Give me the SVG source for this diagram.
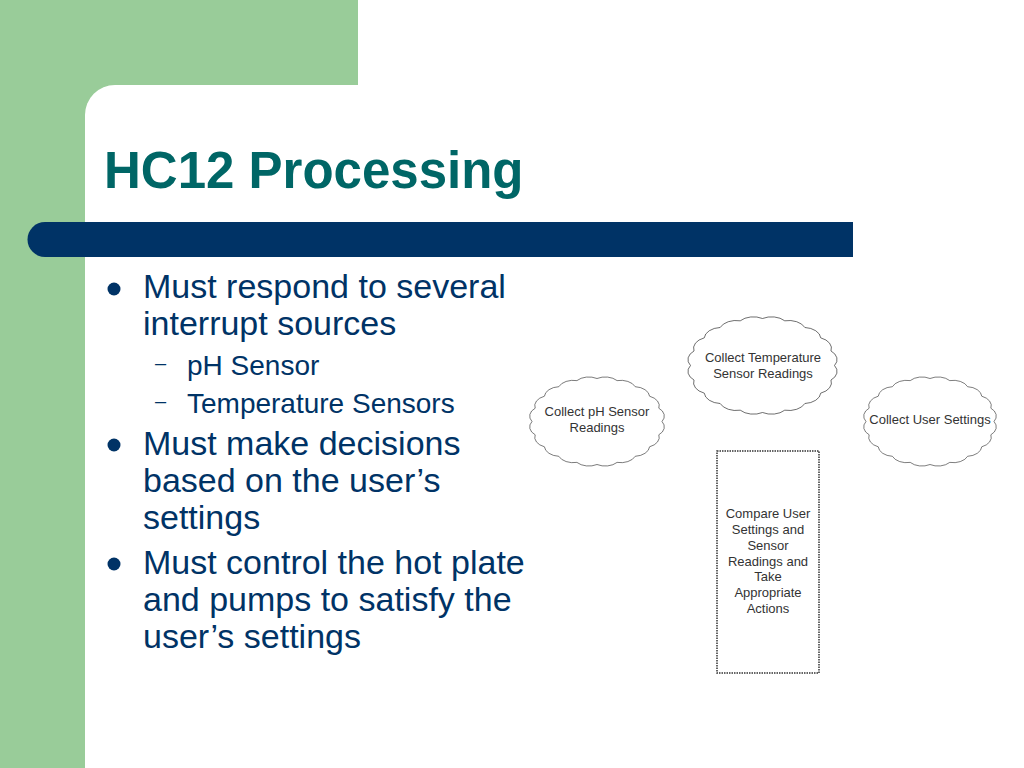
<svg xmlns="http://www.w3.org/2000/svg" xmlns:xlink="http://www.w3.org/1999/xlink" width="1024" height="768" viewBox="0 0 1024 768">
<style>
.title{font-family:"Liberation Sans",Arial,sans-serif;font-weight:bold;font-size:51px;fill:#006666}
.b1{font-family:"Liberation Sans",Arial,sans-serif;font-size:34px;fill:#003366}
.b2{font-family:"Liberation Sans",Arial,sans-serif;font-size:28px;fill:#003366}
.dash{font-family:"Liberation Sans",Arial,sans-serif;font-size:20px;fill:#003366}
.nt{font-family:"Liberation Sans",Arial,sans-serif;font-size:13px;fill:#333333;text-anchor:middle}
.cloud{fill:#ffffff;stroke:#222222;stroke-width:1.1;vector-effect:non-scaling-stroke}
.box{fill:#ffffff;stroke:#333333;stroke-width:1.5;stroke-dasharray:1.5 1}
</style>
<defs>
<path id="cloudShape" d="M100,0 A24,24 0 0 1 95.1,30.9 A24,24 0 0 1 80.9,58.8 A24,24 0 0 1 58.8,80.9 A24,24 0 0 1 30.9,95.1 A24,24 0 0 1 0,100 A24,24 0 0 1 -30.9,95.1 A24,24 0 0 1 -58.8,80.9 A24,24 0 0 1 -80.9,58.8 A24,24 0 0 1 -95.1,30.9 A24,24 0 0 1 -100,0 A24,24 0 0 1 -95.1,-30.9 A24,24 0 0 1 -80.9,-58.8 A24,24 0 0 1 -58.8,-80.9 A24,24 0 0 1 -30.9,-95.1 A24,24 0 0 1 0,-100 A24,24 0 0 1 30.9,-95.1 A24,24 0 0 1 58.8,-80.9 A24,24 0 0 1 80.9,-58.8 A24,24 0 0 1 95.1,-30.9 A24,24 0 0 1 100,0 Z"/>
</defs>
<rect x="0" y="0" width="1024" height="768" fill="#ffffff"/>
<g id="background">
<rect x="0" y="0" width="358" height="125" fill="#99cc99"/>
<rect x="0" y="0" width="125" height="768" fill="#99cc99"/>
<rect x="85" y="85" width="1000" height="800" rx="30" ry="30" fill="#ffffff"/>
<path d="M853,222 H45 A17.5,17.5 0 0 0 45,257 H853 Z" fill="#003366"/>
</g>
<text class="title" x="104" y="188">HC12 Processing</text>
<g id="bullets">
<circle cx="114" cy="289" r="6.5" fill="#003366"/>
<text class="b1" x="143" y="298">Must respond to several</text>
<text class="b1" x="143" y="335">interrupt sources</text>
<text class="dash" x="155" y="370">–</text>
<text class="b2" x="187" y="375">pH Sensor</text>
<text class="dash" x="155" y="408">–</text>
<text class="b2" x="187" y="413">Temperature Sensors</text>
<circle cx="114" cy="445" r="6.5" fill="#003366"/>
<text class="b1" x="143" y="455">Must make decisions</text>
<text class="b1" x="143" y="492">based on the user’s</text>
<text class="b1" x="143" y="529">settings</text>
<circle cx="114" cy="564" r="6.5" fill="#003366"/>
<text class="b1" x="143" y="574">Must control the hot plate</text>
<text class="b1" x="143" y="611">and pumps to satisfy the</text>
<text class="b1" x="143" y="648">user’s settings</text>
</g>
<g id="node-ph">
<use xlink:href="#cloudShape" class="cloud" transform="translate(597,421.5) scale(0.65,0.43)"/>
<text class="nt" x="597" y="416">Collect pH Sensor</text>
<text class="nt" x="597" y="432">Readings</text>
</g>
<g id="node-temp">
<use xlink:href="#cloudShape" class="cloud" transform="translate(762.5,365.5) scale(0.72,0.47)"/>
<text class="nt" x="763" y="362">Collect Temperature</text>
<text class="nt" x="763" y="378">Sensor Readings</text>
</g>
<g id="node-user">
<use xlink:href="#cloudShape" class="cloud" transform="translate(930,421.5) scale(0.64,0.43)"/>
<text class="nt" x="930" y="424">Collect User Settings</text>
</g>
<g id="node-compare">
<rect class="box" x="717" y="451" width="102" height="222"/>
<text class="nt" x="768" y="518">Compare User</text>
<text class="nt" x="768" y="534">Settings and</text>
<text class="nt" x="768" y="550">Sensor</text>
<text class="nt" x="768" y="566">Readings and</text>
<text class="nt" x="768" y="581">Take</text>
<text class="nt" x="768" y="597">Appropriate</text>
<text class="nt" x="768" y="613">Actions</text>
</g>
<g id="connectors"></g>
</svg>
